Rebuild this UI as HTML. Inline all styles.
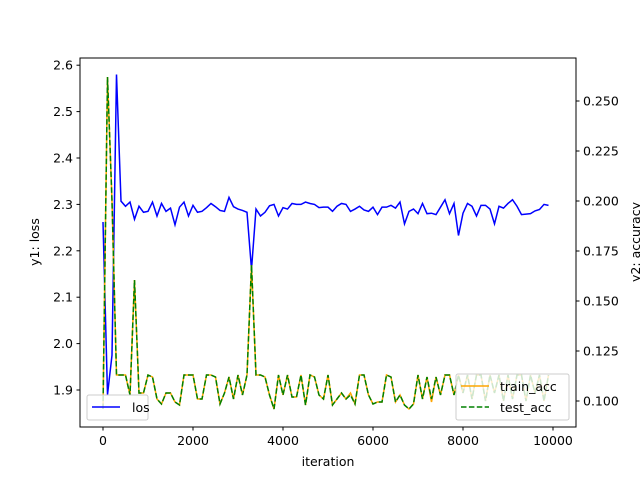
<!DOCTYPE html>
<html><head><meta charset="utf-8"><style>
body{margin:0;background:#fff}
svg text{font-family:"DejaVu Sans","Liberation Sans",sans-serif;font-size:12.5px;fill:#000}
</style></head><body>
<svg id="chart" width="640" height="480" xmlns="http://www.w3.org/2000/svg">
<rect x="0" y="0" width="640" height="480" fill="#fff"/>
<g id="plot"></g>
<g id="axes"></g>
</svg>
<script>
const iterations = [];
for (let i = 0; i < 100; i++) iterations.push(i * 100);
const lossValues = [2.262,1.89,1.975,2.58,2.307,2.296,2.305,2.268,2.296,2.283,2.285,2.305,2.275,2.302,2.285,2.292,2.256,2.294,2.305,2.275,2.298,2.283,2.285,2.293,2.302,2.295,2.287,2.285,2.315,2.295,2.29,2.287,2.283,2.16,2.29,2.275,2.283,2.297,2.3,2.275,2.293,2.29,2.302,2.3,2.3,2.305,2.302,2.3,2.293,2.294,2.294,2.285,2.296,2.302,2.3,2.285,2.29,2.296,2.288,2.285,2.294,2.278,2.294,2.294,2.298,2.292,2.305,2.258,2.285,2.29,2.28,2.302,2.28,2.281,2.278,2.294,2.31,2.28,2.302,2.233,2.281,2.302,2.296,2.275,2.298,2.298,2.29,2.258,2.296,2.292,2.302,2.31,2.296,2.278,2.279,2.28,2.286,2.289,2.3,2.298];
const trainAcc = [0.096,0.262,0.2,0.113,0.113,0.113,0.103,0.1605,0.104,0.104,0.113,0.112,0.101,0.0985,0.104,0.104,0.0995,0.098,0.113,0.113,0.113,0.101,0.101,0.113,0.113,0.112,0.0985,0.104,0.112,0.101,0.113,0.103,0.113,0.168,0.113,0.113,0.112,0.103,0.096,0.113,0.103,0.113,0.102,0.102,0.113,0.098,0.113,0.112,0.103,0.101,0.113,0.098,0.101,0.104,0.101,0.104,0.0985,0.113,0.113,0.103,0.0985,0.0995,0.0995,0.113,0.112,0.0995,0.103,0.098,0.096,0.0985,0.113,0.101,0.112,0.0995,0.112,0.103,0.113,0.113,0.103,0.113,0.104,0.113,0.101,0.113,0.113,0.1,0.113,0.104,0.113,0.1,0.113,0.101,0.113,0.113,0.1,0.113,0.104,0.113,0.1,0.113];
const testAcc = [0.096,0.262,0.2,0.113,0.113,0.113,0.103,0.1605,0.104,0.104,0.113,0.112,0.101,0.0985,0.104,0.104,0.0995,0.098,0.113,0.113,0.113,0.101,0.101,0.113,0.113,0.112,0.0985,0.104,0.112,0.101,0.113,0.103,0.113,0.168,0.113,0.113,0.112,0.103,0.096,0.113,0.103,0.113,0.102,0.102,0.113,0.098,0.113,0.112,0.103,0.101,0.113,0.098,0.101,0.104,0.101,0.103,0.0985,0.113,0.113,0.103,0.0985,0.0995,0.0995,0.113,0.112,0.0995,0.103,0.098,0.096,0.0985,0.113,0.101,0.112,0.101,0.112,0.103,0.113,0.113,0.103,0.113,0.104,0.113,0.101,0.113,0.113,0.1,0.113,0.104,0.113,0.1,0.113,0.101,0.113,0.113,0.1,0.113,0.104,0.113,0.1,0.113];
const xTicks = [0,2000,4000,6000,8000,10000];
const yLeftTicks = [1.9,2.0,2.1,2.2,2.3,2.4,2.5,2.6];
const yRightTicks = [0.100,0.125,0.150,0.175,0.200,0.225,0.250];

const L=80,R=576,T=58,B=427;
const xs = v => 103 + v*0.045;
const yL = v => 390 - (v-1.9)*464;
const yR = v => 401 - (v-0.1)*2000;
const NS="http://www.w3.org/2000/svg";
function mk(tag, attrs, parent){const e=document.createElementNS(NS,tag);for(const k in attrs)e.setAttribute(k,attrs[k]);parent.appendChild(e);return e;}
const plot=document.getElementById('plot'), axes=document.getElementById('axes');
function pts(arr, yf){return arr.map((v,i)=>xs(iterations[i]).toFixed(2)+','+yf(v).toFixed(2)).join(' ');}

let p;
p=mk('polyline',{points:pts(lossValues,yL),fill:'none',stroke:'#0000ff','stroke-width':1.5},plot);


p=mk('polyline',{points:pts(trainAcc,yR),fill:'none',stroke:'#ffa500','stroke-width':1.5},plot);


p=mk('polyline',{points:pts(testAcc,yR),fill:'none',stroke:'#008000','stroke-width':1.5,'stroke-dasharray':'5.5,2.4'},plot);



let fr=mk('rect',{x:L,y:T,width:R-L,height:B-T,fill:'none',stroke:'#000','stroke-width':1},axes);



xTicks.forEach(v=>{const x=xs(v);
 mk('line',{x1:x,y1:B,x2:x,y2:B+3.5,stroke:'#000'},axes);
 const t=mk('text',{x:x,y:B+18,'text-anchor':'middle'},axes);t.textContent=v;
 
 });
yLeftTicks.forEach(v=>{const y=yL(v);
 mk('line',{x1:L,y1:y,x2:L-3.5,y2:y,stroke:'#000'},axes);
 const t=mk('text',{x:L-7,y:y+4.5,'text-anchor':'end'},axes);t.textContent=v.toFixed(1);
 
 });
yRightTicks.forEach(v=>{const y=yR(v);
 mk('line',{x1:R,y1:y,x2:R+3.5,y2:y,stroke:'#000'},axes);
 const t=mk('text',{x:R+7,y:y+4.5,'text-anchor':'start'},axes);t.textContent=v.toFixed(3);
 
 });

let t;
t=mk('text',{x:328,y:466,'text-anchor':'middle'},axes);t.textContent='iteration';


t=mk('text',{x:0,y:0,'text-anchor':'middle',transform:'translate(39,242) rotate(-90)'},axes);t.textContent='y1: loss';


t=mk('text',{x:0,y:0,'text-anchor':'middle',transform:'translate(640,242) rotate(-90)'},axes);t.textContent='y2: accuracy';



let lg=mk('g',{},axes);


mk('rect',{x:87,y:395,width:61,height:25,rx:2,fill:'rgba(255,255,255,0.8)',stroke:'#ccc'},lg);
mk('line',{x1:92,y1:407,x2:120,y2:407,stroke:'#0000ff','stroke-width':1.5},lg);
t=mk('text',{x:132,y:412},lg);t.textContent='los';



lg=mk('g',{},axes);


mk('rect',{x:456,y:374,width:113,height:46,rx:2,fill:'rgba(255,255,255,0.8)',stroke:'#ccc'},lg);
mk('line',{x1:461,y1:386,x2:489,y2:386,stroke:'#ffa500','stroke-width':1.5},lg);
mk('line',{x1:461,y1:407,x2:489,y2:407,stroke:'#008000','stroke-width':1.5,'stroke-dasharray':'5.5,2.4'},lg);
t=mk('text',{x:500,y:391},lg);t.textContent='train_acc';


t=mk('text',{x:500,y:412},lg);t.textContent='test_acc';


</script>
</body></html>
